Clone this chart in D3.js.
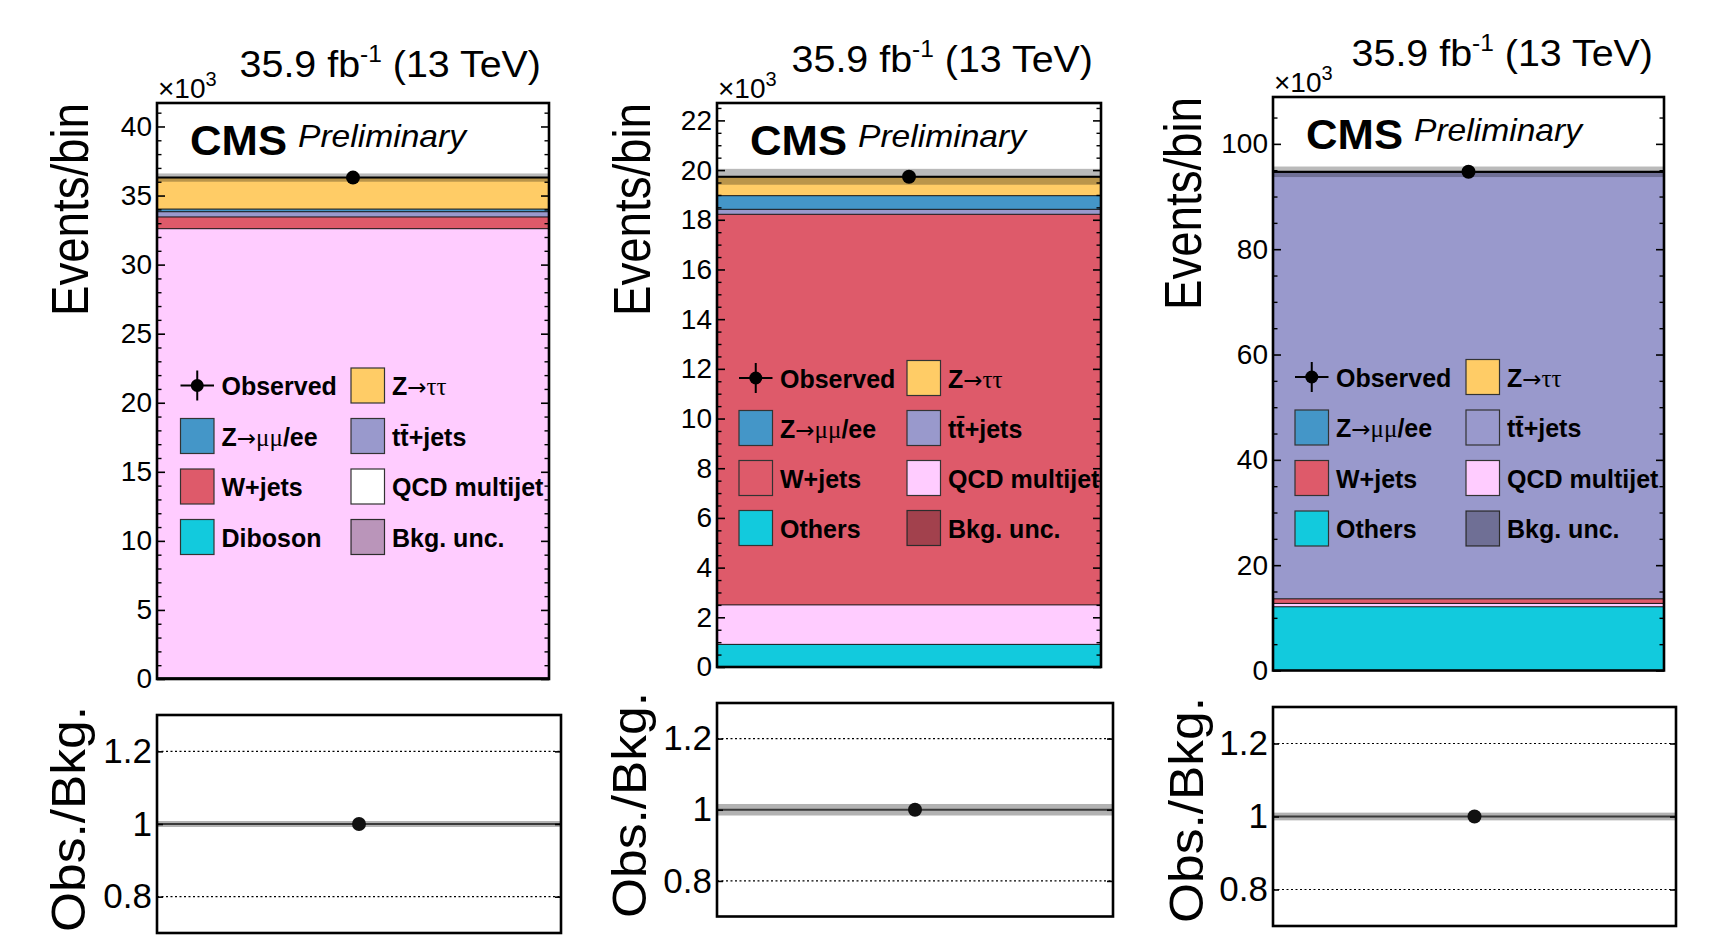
<!DOCTYPE html>
<html>
<head>
<meta charset="utf-8">
<script src="https://cdn.jsdelivr.net/npm/d3@7"></script>
<style>
  html, body { margin: 0; padding: 0; background: #fff; }
  svg { display: block; }
  text { font-family: "Liberation Sans", Arial, Helvetica, sans-serif; fill: #000; }
</style>
</head>
<body>
<svg id="fig" width="1717" height="946"></svg>
<script>
// ---------------------------------------------------------------------------
// Background processes, stacked from the bottom up
const processKeys   = ["other", "qcd", "wjets", "ttbar", "zll", "ztt"];
const processColors = ["#12cadd", "#ffccff", "#de5a6a", "#9999cc", "#4496c8", "#ffcc66"];

// Expected yields per channel (x10^3 events), same order as processKeys
const yieldsA = [0.10, 32.50, 0.85, 0.38, 0.19, 2.28];
const yieldsB = [0.91, 1.59, 15.72, 0.20, 0.55, 0.76];
const yieldsC = [12.10, 0.64, 0.87, 80.99, 0.05, 0.05];

// Observed counts, their statistical error, and the background uncertainty (x10^3)
const observed    = [36.30, 19.73, 94.70];
const observedErr = [0.19, 0.14, 0.31];
const bkgUnc      = [0.30, 0.32, 1.00];

// Axis ranges and ticks
const yMax        = [41.7, 22.7, 108.9];
const majorTicksA = [0, 5, 10, 15, 20, 25, 30, 35, 40];
const majorTicksB = [0, 2, 4, 6, 8, 10, 12, 14, 16, 18, 20, 22];
const majorTicksC = [0, 20, 40, 60, 80, 100];
const minorSteps  = [1, 0.5, 5];
const ratioRange      = [0.7, 1.3];
const ratioTicks      = [0.8, 1, 1.2];
const ratioTickLabels = ["0.8", "1", "1.2"];
const ratioGrid       = [0.8, 1.2];

// Name of the lowest stacked component in each channel
const lowestLabels = ["Diboson", "Others", "Others"];

const lumiLabel = "35.9 fb";
const lumiSup   = "-1";
const lumiTail  = " (13 TeV)";

// ---------------------------------------------------------------------------
// Pad geometry (pixels)
const pads = [
  { top: { L: 157,  R: 549,  T: 103, B: 679 },   ratio: { L: 157,  R: 561,  T: 715, B: 933 },
    legX1: 23.5, legX2: 194, legY: 282.5, legDy: 50.5, lumiX: 541,  lumiY: 77,
    titleX: 88,  ratioTitleX: 85,  ratioTitleTop: 706 },
  { top: { L: 717,  R: 1101, T: 103, B: 667 },   ratio: { L: 717,  R: 1113, T: 703, B: 916.5 },
    legX1: 22,   legX2: 190, legY: 275,   legDy: 50,   lumiX: 1093, lumiY: 72,
    titleX: 650, ratioTitleX: 646, ratioTitleTop: 692 },
  { top: { L: 1273, R: 1664, T: 97,  B: 670.5 }, ratio: { L: 1273, R: 1676, T: 707, B: 926 },
    legX1: 22,   legX2: 193, legY: 280,   legDy: 50.5, lumiX: 1653, lumiY: 66,
    titleX: 1201, ratioTitleX: 1203, ratioTitleTop: 697 }
];

const channels = [
  { yields: yieldsA, ticks: majorTicksA },
  { yields: yieldsB, ticks: majorTicksB },
  { yields: yieldsC, ticks: majorTicksC }
];

const svg = d3.select("#fig");
svg.append("rect").attr("width", 1717).attr("height", 946).attr("fill", "#fff");

const colorOf = d3.scaleOrdinal().domain(processKeys).range(processColors);
const UNC_OPACITY = 0.27;
const SERIF = "'Liberation Serif', 'DejaVu Serif', serif";
const ARROW = "'DejaVu Sans', sans-serif";

// Legend entries; each label is a list of [text, style] runs
function legendEntries(i) {
  return [
    { col: 0, row: 0, kind: "data",  parts: [["Observed", "b"]] },
    { col: 1, row: 0, kind: "box", key: "ztt",   parts: [["Z", "b"], ["\u2192", "a"], ["\u03c4\u03c4", "s"]] },
    { col: 0, row: 1, kind: "box", key: "zll",   parts: [["Z", "b"], ["\u2192", "a"], ["\u03bc\u03bc", "s"], ["/ee", "b"]] },
    { col: 1, row: 1, kind: "box", key: "ttbar", parts: [["tt\u0304+jets", "b"]] },
    { col: 0, row: 2, kind: "box", key: "wjets", parts: [["W+jets", "b"]] },
    { col: 1, row: 2, kind: "box", key: "qcd",   parts: [["QCD multijet", "b"]] },
    { col: 0, row: 3, kind: "box", key: "other", parts: [[lowestLabels[i], "b"]] },
    { col: 1, row: 3, kind: "unc",               parts: [["Bkg. unc.", "b"]] }
  ];
}

channels.forEach((ch, i) => {
  const P = pads[i].top, Q = pads[i].ratio, pd = pads[i];
  const g = svg.append("g");

  const x  = d3.scaleLinear().domain([0, 1]).range([P.L, P.R]);
  const y  = d3.scaleLinear().domain([0, yMax[i]]).range([P.B, P.T]);
  const xr = d3.scaleLinear().domain([0, 1]).range([Q.L, Q.R]);
  const yr = d3.scaleLinear().domain(ratioRange).range([Q.B, Q.T]);

  // --- stacked backgrounds (single bin)
  const row = {};
  processKeys.forEach((k, j) => row[k] = ch.yields[j]);
  const series = d3.stack().keys(processKeys)([row]);
  const total = d3.sum(ch.yields);

  g.append("g").selectAll("rect").data(series).join("rect")
    .attr("x", x(0)).attr("width", x(1) - x(0))
    .attr("y", d => y(d[0][1]))
    .attr("height", d => Math.max(0, y(d[0][0]) - y(d[0][1])))
    .attr("fill", d => colorOf(d.key));
  g.append("g").selectAll("line").data(series).join("line")
    .attr("x1", x(0)).attr("x2", x(1))
    .attr("y1", d => y(d[0][1])).attr("y2", d => y(d[0][1]))
    .attr("stroke", "#111").attr("stroke-width", 1);

  // --- background uncertainty band and total line
  g.append("rect")
    .attr("x", x(0)).attr("width", x(1) - x(0))
    .attr("y", y(total + bkgUnc[i]))
    .attr("height", y(total - bkgUnc[i]) - y(total + bkgUnc[i]))
    .attr("fill", "#000").attr("opacity", UNC_OPACITY);
  g.append("line")
    .attr("x1", x(0)).attr("x2", x(1)).attr("y1", y(total)).attr("y2", y(total))
    .attr("stroke", "#000").attr("stroke-width", 2);

  // --- observed point
  g.append("line")
    .attr("x1", x(0.5)).attr("x2", x(0.5))
    .attr("y1", y(observed[i] - observedErr[i])).attr("y2", y(observed[i] + observedErr[i]))
    .attr("stroke", "#000").attr("stroke-width", 2);
  g.append("circle").attr("cx", x(0.5)).attr("cy", y(observed[i])).attr("r", 7).attr("fill", "#000");

  // --- legend
  const legG = g.append("g");
  legendEntries(i).forEach(e => {
    const bx = P.L + (e.col === 0 ? pd.legX1 : pd.legX2);
    const cy = P.T + pd.legY + e.row * pd.legDy;
    const bw = 33.5, bh = 35;
    if (e.kind === "data") {
      legG.append("line").attr("x1", bx).attr("x2", bx + bw).attr("y1", cy).attr("y2", cy)
        .attr("stroke", "#000").attr("stroke-width", 2);
      legG.append("line").attr("x1", bx + bw / 2).attr("x2", bx + bw / 2).attr("y1", cy - 15).attr("y2", cy + 15)
        .attr("stroke", "#000").attr("stroke-width", 2);
      legG.append("circle").attr("cx", bx + bw / 2).attr("cy", cy).attr("r", 6.5).attr("fill", "#000");
    } else if (e.kind === "box") {
      let fill = colorOf(e.key);
      if (i === 0 && e.key === "qcd") fill = "#fff";
      legG.append("rect").attr("x", bx).attr("y", cy - bh / 2).attr("width", bw).attr("height", bh)
        .attr("fill", fill).attr("stroke", "#333").attr("stroke-width", 1.2);
    } else {
      const bg = (i === 0) ? colorOf("qcd") : (i === 1 ? colorOf("wjets") : colorOf("ttbar"));
      legG.append("rect").attr("x", bx).attr("y", cy - bh / 2).attr("width", bw).attr("height", bh)
        .attr("fill", bg).attr("stroke", "#333").attr("stroke-width", 1.2);
      legG.append("rect").attr("x", bx).attr("y", cy - bh / 2).attr("width", bw).attr("height", bh)
        .attr("fill", "#000").attr("opacity", UNC_OPACITY);
    }
    const t = legG.append("text").attr("x", bx + 41).attr("y", cy + 9.5)
      .attr("font-size", 25);
    e.parts.forEach(([s, style]) => {
      const sp = t.append("tspan").text(s);
      if (style === "b") sp.attr("font-weight", "bold");
      else if (style === "a") sp.attr("font-family", ARROW).attr("font-weight", "normal").attr("font-size", 23);
      else sp.attr("font-family", SERIF).attr("font-weight", "normal");
    });
  });

  // --- axes (ticks inside the frame on both sides)
  const minor = d3.range(0, yMax[i], minorSteps[i]).filter(v => !ch.ticks.some(t => Math.abs(t - v) < 1e-6));
  const axL = g.append("g").attr("transform", `translate(${P.L},0)`)
    .call(d3.axisLeft(y).tickValues(ch.ticks).tickSize(-8).tickPadding(5).tickFormat(d3.format("d")));
  axL.select(".domain").remove();
  axL.selectAll("text").attr("font-size", 28).attr("font-family", "'Liberation Sans', Arial, sans-serif");
  axL.selectAll("line").attr("stroke-width", 1.6);
  const axLm = g.append("g").attr("transform", `translate(${P.L},0)`)
    .call(d3.axisLeft(y).tickValues(minor).tickSize(-4.5).tickFormat(""));
  axLm.select(".domain").remove();
  axLm.selectAll("line").attr("stroke-width", 1.4);
  const axR = g.append("g").attr("transform", `translate(${P.R},0)`)
    .call(d3.axisRight(y).tickValues(ch.ticks).tickSize(-8).tickFormat(""));
  axR.select(".domain").remove();
  axR.selectAll("line").attr("stroke-width", 1.6);
  const axRm = g.append("g").attr("transform", `translate(${P.R},0)`)
    .call(d3.axisRight(y).tickValues(minor).tickSize(-4.5).tickFormat(""));
  axRm.select(".domain").remove();
  axRm.selectAll("line").attr("stroke-width", 1.4);

  // --- frame
  g.append("rect").attr("x", P.L).attr("y", P.T).attr("width", P.R - P.L).attr("height", P.B - P.T)
    .attr("fill", "none").attr("stroke", "#000").attr("stroke-width", 2.6);

  // --- labels on the top pad
  g.append("text").attr("x", P.L + 33).attr("y", P.T + 52)
    .attr("font-size", 42).attr("font-weight", "bold")
    .attr("textLength", 97).attr("lengthAdjust", "spacingAndGlyphs").text("CMS");
  g.append("text").attr("x", P.L + 141).attr("y", P.T + 44)
    .attr("font-size", 32).attr("font-style", "italic")
    .attr("textLength", 168).attr("lengthAdjust", "spacingAndGlyphs").text("Preliminary");

  const mult = g.append("text").attr("x", P.L + 1).attr("y", P.T - 5).attr("font-size", 28);
  mult.append("tspan").text("\u00d710");
  mult.append("tspan").attr("font-size", 20).attr("dy", -12).text("3");

  const lumi = g.append("g").attr("transform", `translate(${pd.lumiX},${pd.lumiY}) scale(1.065,1)`)
    .append("text").attr("text-anchor", "end").attr("font-size", 37);
  lumi.append("tspan").text(lumiLabel);
  lumi.append("tspan").attr("font-size", 23).attr("dy", -15).text(lumiSup);
  lumi.append("tspan").attr("dy", 15).text(lumiTail);

  g.append("text")
    .attr("transform", `translate(${pd.titleX},${P.T}) rotate(-90)`)
    .attr("text-anchor", "end").attr("font-size", 51)
    .attr("textLength", 213).attr("lengthAdjust", "spacingAndGlyphs")
    .text("Events/bin");

  // --- ratio pad
  const rg = svg.append("g");
  const ratio = observed[i] / total;
  const relUnc = bkgUnc[i] / total;

  rg.append("g").selectAll("line").data(ratioGrid).join("line")
    .attr("x1", xr(0)).attr("x2", xr(1)).attr("y1", d => yr(d)).attr("y2", d => yr(d))
    .attr("stroke", "#000").attr("stroke-width", 1.2).attr("stroke-dasharray", "2,2.5");
  rg.append("rect").attr("x", xr(0)).attr("width", xr(1) - xr(0))
    .attr("y", yr(1 + relUnc)).attr("height", yr(1 - relUnc) - yr(1 + relUnc))
    .attr("fill", "#b2b2b2");
  rg.append("line").attr("x1", xr(0)).attr("x2", xr(1)).attr("y1", yr(1)).attr("y2", yr(1))
    .attr("stroke", "#3a3a3a").attr("stroke-width", 2);
  rg.append("circle").attr("cx", xr(0.5)).attr("cy", yr(ratio)).attr("r", 7).attr("fill", "#111");

  const rL = rg.append("g").attr("transform", `translate(${Q.L},0)`)
    .call(d3.axisLeft(yr).tickValues(ratioTicks).tickSize(-6).tickPadding(5)
      .tickFormat((d, k) => ratioTickLabels[k]));
  rL.select(".domain").remove();
  rL.selectAll("text").attr("font-size", 35).attr("font-family", "'Liberation Sans', Arial, sans-serif");
  rL.selectAll("line").attr("stroke-width", 1.6);
  const rR = rg.append("g").attr("transform", `translate(${Q.R},0)`)
    .call(d3.axisRight(yr).tickValues(ratioTicks).tickSize(-6).tickFormat(""));
  rR.select(".domain").remove();
  rR.selectAll("line").attr("stroke-width", 1.6);

  rg.append("rect").attr("x", Q.L).attr("y", Q.T).attr("width", Q.R - Q.L).attr("height", Q.B - Q.T)
    .attr("fill", "none").attr("stroke", "#000").attr("stroke-width", 2.6);

  rg.append("text")
    .attr("transform", `translate(${pd.ratioTitleX},${pd.ratioTitleTop}) rotate(-90)`)
    .attr("text-anchor", "end").attr("font-size", 49)
    .attr("textLength", 226).attr("lengthAdjust", "spacingAndGlyphs")
    .text("Obs./Bkg.");
});
</script>
</body>
</html>
